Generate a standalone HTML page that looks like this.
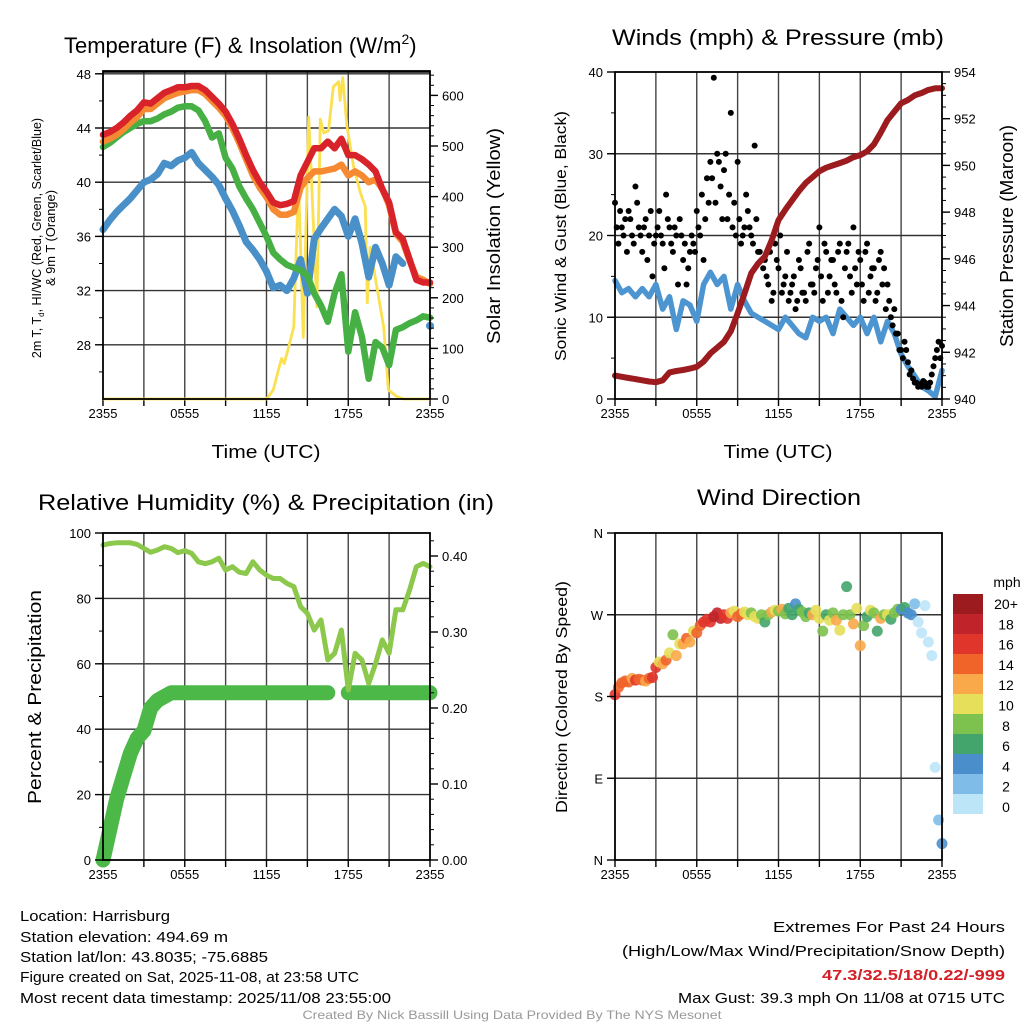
<!DOCTYPE html>
<html><head><meta charset="utf-8"><title>Weather Meteogram</title>
<style>
html,body{margin:0;padding:0;background:#fff;}
svg{display:block;font-family:"Liberation Sans",Arial,sans-serif;}
</style></head>
<body>
<svg id="chart" width="1024" height="1024" viewBox="0 0 1024 1024" xmlns="http://www.w3.org/2000/svg"></svg>
<script>
// ===== DATA (half-hourly unless noted) =====
const xTickLabels = ["2355","0555","1155","1755","2355"];
const tempRed = [43.5,43.7,44.0,44.4,44.9,45.3,45.9,45.8,46.2,46.6,46.8,47.0,47.0,47.1,47.1,46.8,46.3,45.8,45.2,44.3,43.2,42.0,40.9,40.0,39.3,38.5,38.3,38.4,38.6,40.5,41.5,42.5,42.5,43.0,42.5,43.2,42.0,42.0,41.7,41.3,40.8,39.5,38.5,36.3,35.8,34.3,32.8,32.6,32.6];
const tempOrange = [43.0,43.2,43.5,43.9,44.4,44.8,45.4,45.4,45.8,46.2,46.4,46.6,46.7,46.8,46.8,46.5,46.0,45.5,44.9,44.0,42.9,41.7,40.5,39.6,38.9,38.0,37.6,37.6,37.8,39.6,40.3,40.8,40.8,40.9,41.0,41.3,40.5,40.8,40.5,40.0,40.2,39.5,38.3,36.2,35.6,34.2,33.0,32.8,32.5];
const dewGreen = [42.6,42.9,43.3,43.7,44.0,44.3,44.5,44.5,44.7,45.0,45.2,45.5,45.6,45.6,45.3,44.5,43.3,43.6,41.8,41.0,39.7,38.8,38.0,37.0,36.0,34.8,34.3,33.9,33.7,33.5,33.1,31.8,30.9,29.7,31.8,33.2,27.5,30.4,28.6,25.5,28.2,27.8,26.5,29.1,29.3,29.6,29.8,30.1,30.0];
const wcBlue = [36.5,37.2,37.8,38.3,38.8,39.4,40.0,40.2,40.6,41.4,41.2,41.6,41.8,42.2,41.4,40.9,40.4,39.8,38.8,37.9,36.8,35.6,35.0,34.3,33.4,32.2,32.4,32.0,32.9,34.3,31.8,35.8,36.6,37.3,38.0,37.5,36.0,37.3,35.5,33.0,35.2,34.0,32.4,34.5,34.0,null,null,null,29.4];
const solarHours = [0,12.0,12.5,12.9,13.1,13.3,13.6,14.0,14.35,14.7,15.1,15.3,15.7,15.95,16.2,16.55,16.9,17.3,17.4,17.6,17.9,18.4,18.9,19.25,19.4,19.6,20.1,20.6,20.95,21.55,22.05,24];
const solarVals = [0,0,18,60,80,70,100,143,433,122,557,433,182,553,526,530,617,627,590,635,540,458,407,380,190,300,221,142,18,5,0,0];
const windSpeed = [14.5,13,13.5,12.5,13.5,12.5,14,11,12.5,8.5,12,11.5,9.5,14,15.5,14,15,11,14,12,10.5,10,9.5,9,8.5,10,9,8,7.5,10,9.5,10,8,11,10,9,10,8,10,7,9.5,8,5.5,4,2.8,1.5,1,0.3,3.5];
const pressure = [941.0,940.95,940.9,940.85,940.8,940.75,940.72,940.8,941.14,941.2,941.24,941.3,941.38,941.6,941.95,942.2,942.45,942.9,943.67,944.5,945.39,945.8,946.1,946.8,947.66,948.1,948.5,948.9,949.25,949.5,949.75,949.9,950.0,950.1,950.2,950.35,950.44,950.6,950.9,951.4,951.94,952.3,952.66,952.8,953.0,953.1,953.23,953.3,953.3];
// gusts: 15-min (97) and offset 7.5 min (96)
const gustA = [24,19,21,22, 23,20,26,21, 18,22,20,15, 20,23,19,25, 21,18,20,22, 17,14,18,19, 23,20,17,27, 29,39.3,30,26, 28,22,35,24, 29,19,21,23, 20,31,18,17, 17,14,12,19, 16,13,15,12, 14,11,17,13, 12,19,14,16, 21,12,18,15, 17,13,19,10, 18,15,21,14, 17,12,19,15, 16,13,18,16, 14,10,11,8, 6,7,4.5,3.5, 2,1.5,1.5,2, 1.5,3,5,7, 6.5];
const gustB = [21,23,20,18, 22,19,24,20, 21,17,23,19, 21,20,16,22, 19,21,14,20, 19,16,20,18, 21,25,22,24, 27,24,29,22, 30,25,21,20, 22,20,25,21, 19,22,18,16, 15,18,13,17, 20,14,18,13, 15,12,16,13, 18,14,13,17, 15,19,13,17, 14,18,12,16, 19,13,16,18, 14,18,13,16, 12,17,14,11, 12,9,8,6, 5,6,3,2.5, 2,1.8,2.2,1.5, 2,4,6,5];
const relHum = [96.3,96.8,97.0,97.0,97.0,96.5,95.3,94.1,94.8,95.8,95.3,94.0,94.6,93.8,91.2,90.6,91.2,92.3,88.7,89.7,88.0,87.6,91.2,88.7,87.1,86.1,86.1,84.6,83.6,77.5,75.4,70.3,73.4,61.2,63.2,70.3,52.0,63.2,61.2,54.0,60.0,67.3,63.2,76.5,76.5,82.6,89.7,90.7,89.7];
const precip = [0,0.04,0.08,0.11,0.14,0.16,0.17,0.20,0.21,0.215,0.22,0.22,0.22,0.22,0.22,0.22,0.22,0.22,0.22,0.22,0.22,0.22,0.22,0.22,0.22,0.22,0.22,0.22,0.22,0.22,0.22,0.22,0.22,0.22,null,null,0.22,0.22,0.22,0.22,0.22,0.22,0.22,0.22,0.22,0.22,0.22,0.22,0.22];
// wind direction (15-min, degrees) and speed (mph)
const windDir = [182,190,195,197, 196,200,198,199, 198,197,200,201, 212,218,216,220, 228,248,225,238, 238,244,240,252, 250,258,262,265, 262,268,272,266, 270,266,272,274, 268,271,273,270, 272,268,266,270, 262,270,273,275, 274,276,271,277, 270,282,276,273, 268,272,270,275, 266,252,270,264, 272,264,253,270, 301,270,260,277, 236,258,268,275, 272,252,266,270, 270,265,272,276, 276,278,272,270, 282,262,250,280, 240,225,102,44, 18];
const dirSpeed = [17,14,15,14, 15,13,16,14, 15,13,14,17, 16,10,13,15, 10,8,12,10, 13,14,12,11, 14,15,16,17, 17,18,19,18, 16,17,13,11, 15,14,10,11, 9,11,10,8, 7,9,12,10, 9,13,8,7, 6,5,7,8, 9,7,12,10, 11,9,6,10, 8,12,10,9, 7,9,13,10, 13,8,6,10, 9,7,12,8, 10,6,8,9, 5,6,4,5, 3,1,1.5,0.5, 1,0.5,0.5,3, 4];
const speedBinLabels = ["0","2","4","6","8","10","12","14","16","18","20+"];
const speedColors = ["#bde5f8","#7fbde8","#4a8fcc","#43a56b","#7dc24e","#e6df5a","#f9a94a","#f0642a","#e0352b","#c1232a","#9b1b1e"];

// ===== DRAWING =====
const NS = "http://www.w3.org/2000/svg";
const svg = document.getElementById("chart");
function mk(tag, attrs, parent) {
  const e = document.createElementNS(NS, tag);
  for (const k in attrs) e.setAttribute(k, attrs[k]);
  (parent || svg).appendChild(e);
  return e;
}
function txt(x, y, s, size, anchor, parent, extra) {
  const a = Object.assign({x: x, y: y, "font-size": size, "text-anchor": anchor || "middle", fill: "#000"}, extra || {});
  const t = mk("text", a, parent);
  t.textContent = s;
  return t;
}
function timeX(P, h) { return P.x0 + h * (P.x1 - P.x0) / 24; }
function linePath(P, vals, yf, stepH) {
  let d = "", pen = false;
  vals.forEach((v, i) => {
    if (v === null) { pen = false; return; }
    const x = timeX(P, i * stepH), y = yf(v);
    d += (pen ? "L" : "M") + x.toFixed(1) + " " + y.toFixed(1);
    pen = true;
  });
  return d;
}
function isolated(vals, i) {
  return vals[i] !== null && (i === 0 || vals[i-1] === null) && (i === vals.length-1 || vals[i+1] === null);
}

function panelFrame(P, name) {
  const g = mk("g", {});
  
  
  for (let h = 3; h < 24; h += 3) {
    const x = timeX(P, h);
    const l = mk("line", {x1: x, y1: P.y0, x2: x, y2: P.y1, stroke: "#444", "stroke-width": 1.4}, g);
    
    
  }
  for (let h = 0; h <= 24; h += 3) {
    const x = timeX(P, h);
    mk("line", {x1: x, y1: P.y1, x2: x, y2: P.y1 + 7, stroke: "#000", "stroke-width": 1.4}, g);
  }
  xTickLabels.forEach((lab, i) => {
    const t = txt(timeX(P, i * 6), P.y1 + 19, lab, 13, "middle", g);
    
    
  });
  return g;
}
function hGrid(P, g, ys) {
  ys.forEach(y => {
    const l = mk("line", {x1: P.x0, y1: y, x2: P.x1, y2: y, stroke: "#333", "stroke-width": 1.4}, g);
    
    
  });
}
function leftAxis(P, g, majors, labels, minors, yf) {
  minors.forEach(v => mk("line", {x1: P.x0 - 4, y1: yf(v), x2: P.x0, y2: yf(v), stroke: "#000", "stroke-width": 1}, g));
  majors.forEach((v, i) => {
    mk("line", {x1: P.x0 - 8, y1: yf(v), x2: P.x0, y2: yf(v), stroke: "#000", "stroke-width": 1.4}, g);
    const t = txt(P.x0 - 12, yf(v) + 5, labels[i], 13, "end", g);
    
    
  });
}
function rightAxis(P, g, majors, labels, minors, yf) {
  minors.forEach(v => mk("line", {x1: P.x1, y1: yf(v), x2: P.x1 + 4, y2: yf(v), stroke: "#000", "stroke-width": 1}, g));
  majors.forEach((v, i) => {
    mk("line", {x1: P.x1, y1: yf(v), x2: P.x1 + 8, y2: yf(v), stroke: "#000", "stroke-width": 1.4}, g);
    const t = txt(P.x1 + 12, yf(v) + 5, labels[i], 13, "start", g);
    
    
  });
}
function border(P, g) {
  const r = mk("rect", {x: P.x0, y: P.y0, width: P.x1 - P.x0, height: P.y1 - P.y0, fill: "none", stroke: "#000", "stroke-width": 1.8}, g);
  
  
}
function range(a, b, s) { const r = []; for (let v = a; v <= b + 1e-9; v += s) r.push(+v.toFixed(4)); return r; }
function series(P, g, vals, yf, color, w, name, step) {
  const p = mk("path", {d: linePath(P, vals, yf, step), fill: "none", stroke: color, "stroke-width": w, "stroke-linejoin": "round", "stroke-linecap": "round"}, g);
  
  
  vals.forEach((v, i) => {
    if (isolated(vals, i)) {
      const c = mk("circle", {cx: timeX(P, i * step), cy: yf(v), r: w / 2 + 0.5, fill: color}, g);
      
      
    }
  });
}

// ---------- Panel 1: Temperature ----------
const P1 = {x0: 103, x1: 430, y0: 71, y1: 399};
const tY = v => P1.y1 - (v - 24) * 13.55;
const sY = w => P1.y1 - w * 0.506;
const g1 = panelFrame(P1, "temperature-panel");
hGrid(P1, g1, [28,32,36,40,44,48].map(tY));
(function(){
  let d = "";
  solarHours.forEach((h, i) => { d += (i ? "L" : "M") + timeX(P1, h).toFixed(1) + " " + sY(solarVals[i]).toFixed(1); });
  const p = mk("path", {d: d, fill: "none", stroke: "#fbe04f", "stroke-width": 2.8, "stroke-linejoin": "round"}, g1);
  
  
})();
series(P1, g1, wcBlue, tY, "#4a90c8", 7, "windchill-line", 0.5);
series(P1, g1, dewGreen, tY, "#46b044", 6.5, "dewpoint-line", 0.5);
series(P1, g1, tempOrange, tY, "#f58a33", 6.5, "temp-9m-line", 0.5);
series(P1, g1, tempRed, tY, "#d9232a", 6.5, "temp-2m-line", 0.5);
leftAxis(P1, g1, [28,32,36,40,44,48], ["28","32","36","40","44","48"], range(26,48,2), tY);
rightAxis(P1, g1, [0,100,200,300,400,500,600], ["0","100","200","300","400","500","600"], range(0,640,20), sY);
mk("line", {x1: P1.x0, y1: P1.y0 + 1, x2: P1.x1, y2: P1.y0 + 1, stroke: "#000", "stroke-width": 1.4}, g1);
border(P1, g1);

// ---------- Panel 2: Winds & Pressure ----------
const P2 = {x0: 615, x1: 942, y0: 72, y1: 399};
const wY = v => P2.y1 - v * 8.175;
const pY = p => P2.y1 - (p - 940) * 23.36;
const g2 = panelFrame(P2, "winds-panel");
hGrid(P2, g2, [10,20,30].map(wY));
series(P2, g2, windSpeed, wY, "#4d95d0", 5.5, "sonic-wind-line", 0.5);
gustA.forEach((v, i) => {
  const c = mk("circle", {cx: timeX(P2, i * 0.25), cy: wY(v), r: 3, fill: "#000"}, g2);
  
  
});
gustB.forEach((v, i) => {
  const c = mk("circle", {cx: timeX(P2, i * 0.25 + 0.125), cy: wY(v), r: 3, fill: "#000"}, g2);
  
  
});
series(P2, g2, pressure, pY, "#9b1b1e", 6, "pressure-line", 0.5);
leftAxis(P2, g2, [0,10,20,30,40], ["0","10","20","30","40"], range(0,40,5), wY);
rightAxis(P2, g2, [940,942,944,946,948,950,952,954], ["940","942","944","946","948","950","952","954"], range(940,954,0.5), pY);
border(P2, g2);

// ---------- Panel 3: RH & Precip ----------
const P3 = {x0: 103, x1: 430, y0: 533, y1: 860};
const rY = v => P3.y1 - v * 3.27;
const qY = v => P3.y1 - v * 760;
const g3 = panelFrame(P3, "humidity-panel");
hGrid(P3, g3, [20,40,60,80].map(rY));
series(P3, g3, precip, qY, "#4cb848", 15, "precipitation-line", 0.5);
series(P3, g3, relHum, rY, "#8cc84b", 5, "relative-humidity-line", 0.5);
leftAxis(P3, g3, [0,20,40,60,80,100], ["0","20","40","60","80","100"], range(0,100,10), rY);
rightAxis(P3, g3, [0,0.1,0.2,0.3,0.4], ["0.00","0.10","0.20","0.30","0.40"], range(0,0.42,0.02), qY);
border(P3, g3);

// ---------- Panel 4: Wind Direction ----------
const P4 = {x0: 615, x1: 942, y0: 533, y1: 860};
const dY = d => P4.y1 - d * 327 / 360;
const g4 = panelFrame(P4, "wind-direction-panel");
hGrid(P4, g4, [90,180,270].map(dY));
function speedColor(v) { return speedColors[Math.min(10, Math.floor(v / 2))]; }
windDir.forEach((d, i) => {
  const c = mk("circle", {cx: timeX(P4, i * 0.25), cy: dY(d), r: 5.5, fill: speedColor(dirSpeed[i]), "fill-opacity": 0.9}, g4);
  
  
});
leftAxis(P4, g4, [0,90,180,270,360], ["N","E","S","W","N"], [], dY);
border(P4, g4);
const cb = mk("g", {});


txt(1007, 587, "mph", 14, "middle", cb);
speedColors.slice().reverse().forEach((c, i) => {
  const r = mk("rect", {x: 953, y: 594 + i * 20, width: 30, height: 20, fill: c}, cb);
  
  
});
speedBinLabels.slice().reverse().forEach((s, i) => {
  const t = txt(1006, 609 + i * 20.3, s, 14, "middle", cb);
  
  
});

// ---------- Titles & axis labels ----------
function tl(x, y, s, size, anchor, len, name, extra) {
  const a = Object.assign({textLength: len, lengthAdjust: "spacingAndGlyphs"}, extra || {});
  const t = txt(x, y, s, size, anchor, svg, a);
  
  
  return t;
}
const t1 = txt(64, 53, "", 22, "start");


t1.innerHTML = 'Temperature (F) &amp; Insolation (W/m<tspan font-size="14" dy="-9">2</tspan><tspan dy="9">)</tspan>';
tl(778, 45, "Winds (mph) & Pressure (mb)", 22, "middle", 332, "winds-title");
tl(266, 510, "Relative Humidity (%) & Precipitation (in)", 22, "middle", 456, "humidity-title");
tl(779, 505, "Wind Direction", 22, "middle", 164, "direction-title");
tl(266, 458, "Time (UTC)", 18, "middle", 109, "x-axis-title-temp");
tl(778, 458, "Time (UTC)", 18, "middle", 109, "x-axis-title-winds");
function vlab(x, y, s, size, len, name, rot) {
  const t = txt(0, 0, s, size, "middle", svg, {textLength: len, lengthAdjust: "spacingAndGlyphs", transform: "translate(" + x + "," + y + ") rotate(" + (rot || -90) + ")"});
  
  
  return t;
}
const yl1 = txt(0, 0, "", 12.5, "middle", svg, {transform: "translate(41,238) rotate(-90)"});


yl1.innerHTML = '2m T, T<tspan font-size="8" dy="3">d</tspan><tspan dy="-3">, HI/WC (Red, Green, Scarlet/Blue)</tspan>';
vlab(55, 238, "& 9m T (Orange)", 12.5, 96, "temperature-y-axis-title-line2");
vlab(500, 236, "Solar Insolation (Yellow)", 18, 216, "solar-y-axis-title");
vlab(566, 236, "Sonic Wind & Gust (Blue, Black)", 16, 250, "wind-y-axis-title");
vlab(1013, 236, "Station Pressure (Maroon)", 18, 222, "pressure-y-axis-title");
vlab(41, 697, "Percent & Precipitation", 18, 214, "humidity-y-axis-title");
vlab(567, 697, "Direction (Colored By Speed)", 16, 232, "direction-y-axis-title");

// ---------- Footer text ----------
tl(20, 921, "Location: Harrisburg", 15, "start", 150, "location-text");
tl(20, 942, "Station elevation: 494.69 m", 15, "start", 208, "elevation-text");
tl(20, 962, "Station lat/lon: 43.8035; -75.6885", 15, "start", 248, "latlon-text");
tl(20, 982, "Figure created on Sat, 2025-11-08, at 23:58 UTC", 15, "start", 339, "created-text");
tl(20, 1003, "Most recent data timestamp: 2025/11/08 23:55:00", 15, "start", 371, "timestamp-text");
tl(1005, 932, "Extremes For Past 24 Hours", 15, "end", 232, "extremes-title");
tl(1005, 956, "(High/Low/Max Wind/Precipitation/Snow Depth)", 15, "end", 383, "extremes-subtitle");
tl(1005, 980, "47.3/32.5/18/0.22/-999", 15, "end", 183, "extremes-values", {fill: "#d42027", "font-weight": "bold"});
tl(1005, 1003, "Max Gust: 39.3 mph On 11/08 at 0715 UTC", 15, "end", 327, "max-gust-text");
tl(512, 1019, "Created By Nick Bassill Using Data Provided By The NYS Mesonet", 12, "middle", 419, "credit-text", {fill: "#999"});
</script>
</body></html>
